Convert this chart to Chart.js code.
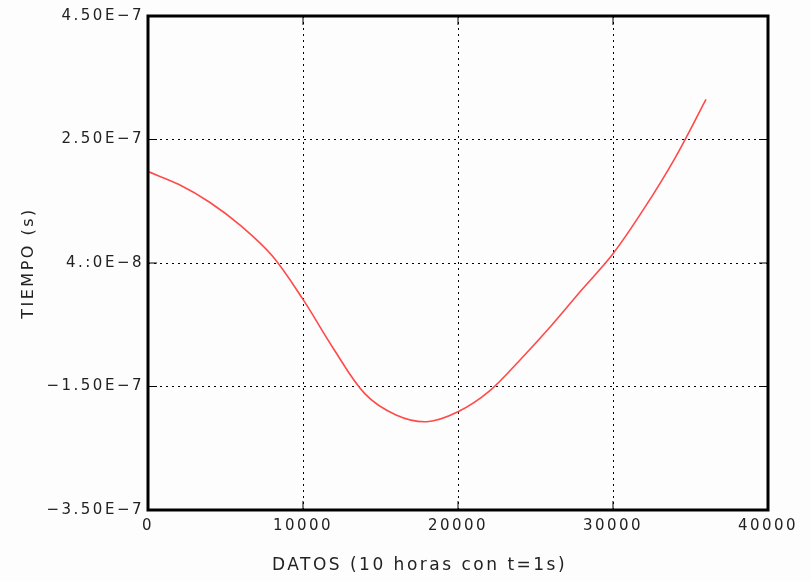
<!DOCTYPE html>
<html>
<head>
<meta charset="utf-8">
<script src="https://cdn.jsdelivr.net/npm/chart.js@4.4.1/dist/chart.umd.min.js"></script>
<style>
  html, body { margin: 0; padding: 0; background: #fdfdfd; }
  #wrap { width: 811px; height: 581px; }
</style>
</head>
<body>
<div id="wrap"><canvas id="tiempoChart"></canvas></div>
<script>
// datos (segundos)
const datos = [0, 2000, 4000, 6000, 8000, 10000, 12000, 14000, 16000, 18000,
  20000, 22000, 24000, 26000, 28000, 30000, 32000, 34000, 36000];
const tiempo = [1.98e-7, 1.77e-7, 1.48e-7, 1.10e-7, 0.62e-7, -0.09e-7, -0.90e-7, -1.62e-7, -1.96e-7, -2.07e-7,
  -1.91e-7, -1.58e-7, -1.07e-7, -0.52e-7, 0.07e-7, 0.65e-7, 1.38e-7, 2.20e-7, 3.15e-7];
// etiquetas del eje y, de abajo hacia arriba
const yTickLabels = ['\u22123.50E\u22127', '\u22121.50E\u22127', '4.:0E\u22128', '2.50E\u22127', '4.50E\u22127'];
const xTitulo = 'DATOS (10 horas con t=1s)';

const fuente = { family: 'DejaVu Sans', size: 15 };
const fuenteTitulo = { family: 'DejaVu Sans', size: 17 };
const textColor = '#222';

// letra espaciada como en el original
const espaciado = {
  id: 'espaciado',
  beforeDraw(chart) {
    chart.ctx.letterSpacing = '2.5px';
  }
};

// marco negro, marcas de tick hacia dentro y titulo del eje x (centrado en la figura)
const marco = {
  id: 'marco',
  afterDraw(chart) {
    const { ctx, chartArea: a, scales } = chart;
    ctx.save();
    ctx.strokeStyle = '#000';
    ctx.lineWidth = 1;
    ctx.beginPath();
    scales.x.ticks.forEach(t => {
      const px = scales.x.getPixelForValue(t.value);
      ctx.moveTo(px, a.bottom); ctx.lineTo(px, a.bottom - 9);
      ctx.moveTo(px, a.top); ctx.lineTo(px, a.top + 9);
    });
    scales.y.ticks.forEach(t => {
      const py = scales.y.getPixelForValue(t.value);
      ctx.moveTo(a.left, py); ctx.lineTo(a.left + 9, py);
      ctx.moveTo(a.right, py); ctx.lineTo(a.right - 9, py);
    });
    ctx.stroke();
    ctx.lineWidth = 3;
    ctx.strokeRect(a.left, a.top, a.right - a.left, a.bottom - a.top);

    ctx.fillStyle = textColor;
    ctx.font = fuenteTitulo.size + 'px "' + fuenteTitulo.family + '"';
    ctx.textAlign = 'center';
    ctx.textBaseline = 'middle';
    ctx.fillText(xTitulo, chart.width / 2 + 14, chart.height - 15);
    ctx.restore();
  }
};

const tiempoChart = new Chart(document.querySelector('#tiempoChart'), {
  type: 'line',
  data: {
    datasets: [{
      data: datos.map((d, i) => ({ x: d, y: tiempo[i] })),
      borderColor: '#ff4a4a',
      borderWidth: 1.6,
      pointRadius: 0,
      tension: 0.35,
      fill: false
    }]
  },
  options: {
    responsive: true,
    maintainAspectRatio: false,
    animation: false,
    layout: { padding: { left: 0, top: 16, right: 43, bottom: 0 } },
    plugins: { legend: { display: false }, tooltip: { enabled: false } },
    scales: {
      x: {
        type: 'linear',
        min: 0, max: 40000,
        ticks: {
          stepSize: 10000, color: textColor, font: fuente, padding: 7, maxRotation: 0,
          callback: value => String(value)
        },
        grid: { color: '#000', lineWidth: 1, drawTicks: false },
        border: { display: false, dash: [2, 4] },
        title: { display: false, text: xTitulo },
        afterFit(scale) { scale.height = 71; }
      },
      y: {
        min: -3.5e-7, max: 4.5e-7,
        ticks: {
          stepSize: 2e-7, color: textColor, font: fuente, padding: 4,
          callback: (value, index) => yTickLabels[index]
        },
        grid: { color: '#000', lineWidth: 1, drawTicks: false },
        border: { display: false, dash: [2, 4] },
        title: { display: true, text: 'TIEMPO (s)', color: textColor, font: { family: 'DejaVu Sans', size: 16 }, padding: { top: 19, bottom: 0 } },
        afterFit(scale) { scale.width = 148; }
      }
    }
  },
  plugins: [espaciado, marco]
});
</script>
</body>
</html>
